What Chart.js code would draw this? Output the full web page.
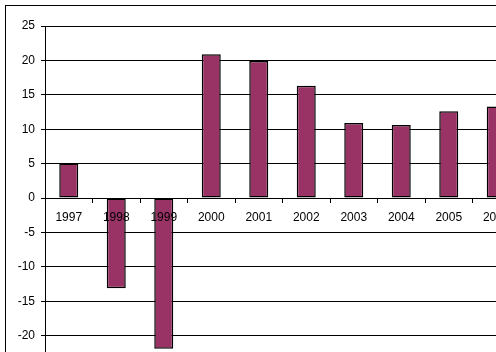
<!DOCTYPE html>
<html>
<head>
<meta charset="utf-8">
<script src="https://cdn.jsdelivr.net/npm/chart.js@4/dist/chart.umd.min.js"></script>
<style>
    html, body { margin: 0; padding: 0; background: #fff; overflow: hidden; }
    #wrap { position: absolute; left: 0; top: 0; width: 540px; height: 400px; }
    #frame { position: absolute; left: 5px; top: 5px; width: 600px; height: 400px;
             border-left: 1px solid #000; border-top: 1px solid #000; pointer-events: none; }
</style>
</head>
<body>
<div id="wrap"><canvas id="growthChart"></canvas></div>
<div id="frame"></div>
<script>
const years = ['1997', '1998', '1999', '2000', '2001', '2002', '2003', '2004', '2005', '2006'];
const growth = [5.0, -13.1, -21.9, 20.9, 19.9, 16.3, 10.9, 10.6, 12.6, 13.3];
const yMin = -25;
const yMax = 25;
const yStep = 5;

Chart.defaults.font.family = '"Liberation Sans", Arial, sans-serif';
Chart.defaults.font.size = 12;
Chart.defaults.color = '#000';

const ctx = document.getElementById('growthChart');
new Chart(ctx, {
    type: 'bar',
    data: {
        labels: years,
        datasets: [{
            data: growth,
            backgroundColor: '#993366',
            borderColor: '#000',
            borderWidth: 1.5,
            borderSkipped: false,
            categoryPercentage: 1,
            barPercentage: 0.4
        }]
    },
    options: {
        responsive: true,
        maintainAspectRatio: false,
        animation: false,
        layout: { padding: { top: 26, right: 20, bottom: 30, left: 0 } },
        plugins: {
            legend: { display: false },
            tooltip: { enabled: false }
        },
        scales: {
            x: {
                position: { y: 0 },
                grid: {
                    offset: true,
                    drawOnChartArea: false,
                    tickLength: 4,
                    color: '#000'
                },
                border: { color: '#000', width: 1, z: 1 },
                ticks: { padding: 8, maxRotation: 0, autoSkip: false, z: 1 }
            },
            y: {
                min: yMin,
                max: yMax,
                afterFit: function (scale) { scale.width = 45 },
                grid: { color: '#000', tickLength: 4 },
                border: { color: '#000', width: 1 },
                ticks: { stepSize: yStep, padding: 6 }
            }
        }
    }
});
</script>
</body>
</html>
